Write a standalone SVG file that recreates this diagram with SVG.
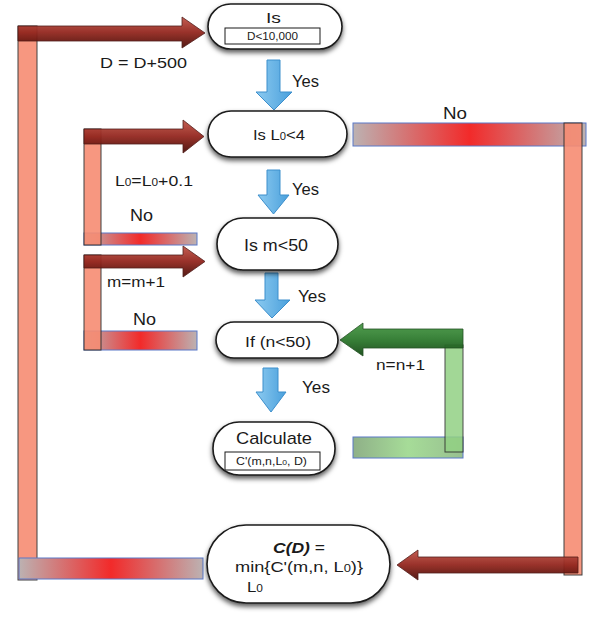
<svg xmlns="http://www.w3.org/2000/svg" width="599" height="623" viewBox="0 0 599 623">
<defs>
  <linearGradient id="redBar" x1="0" y1="0" x2="1" y2="0">
    <stop offset="0" stop-color="#bcb2b2"/>
    <stop offset="0.5" stop-color="#f22a2a"/>
    <stop offset="1" stop-color="#bcb2b2"/>
  </linearGradient>
  <linearGradient id="greenBar" x1="0" y1="0" x2="1" y2="0">
    <stop offset="0" stop-color="#8fb088"/>
    <stop offset="0.5" stop-color="#a6dc98"/>
    <stop offset="1" stop-color="#98c090"/>
  </linearGradient>
  <linearGradient id="redArrow" x1="0" y1="0" x2="0" y2="1">
    <stop offset="0" stop-color="#c2564a"/>
    <stop offset="0.5" stop-color="#93271f"/>
    <stop offset="1" stop-color="#4a0e08"/>
  </linearGradient>
  <linearGradient id="greenArrow" x1="0" y1="0" x2="0" y2="1">
    <stop offset="0" stop-color="#4a9a48"/>
    <stop offset="0.5" stop-color="#2e7a2e"/>
    <stop offset="1" stop-color="#164a16"/>
  </linearGradient>
  <linearGradient id="blueArrow" x1="0" y1="0" x2="1" y2="0">
    <stop offset="0" stop-color="#8ccaf0"/>
    <stop offset="1" stop-color="#4aa0dc"/>
  </linearGradient>
  <filter id="shadow" x="-10%" y="-10%" width="120%" height="140%">
    <feDropShadow dx="0" dy="3" stdDeviation="2.5" flood-color="#000" flood-opacity="0.65"/>
  </filter>
  <style>
    .node { fill: #ffffff; stroke: #1a1a1a; stroke-width: 1.6; filter: url(#shadow); }
    .inner { fill: #ffffff; stroke: #1a1a1a; stroke-width: 1; }
    .t { font-family: "Liberation Sans", Arial, sans-serif; fill: #1a1a1a; }
    .salmon { fill: #f78c73; stroke: #2a2a2a; stroke-width: 1; opacity: 0.9; }
    .rbar { fill: url(#redBar); stroke: #5a78c8; stroke-width: 1; }
    .gbar { fill: url(#greenBar); stroke: #5a78c8; stroke-width: 1; }
    .gvert { fill: #92d184; stroke: #2a2a2a; stroke-width: 1; opacity: 0.85; }
    .rarrow { fill: url(#redArrow); stroke: #4a1410; stroke-width: 0.8; opacity: 0.95; }
    .garrow { fill: url(#greenArrow); stroke: #1a4a1a; stroke-width: 0.8; opacity: 0.95; }
    .barrow { fill: url(#blueArrow); stroke: #3d8fcc; stroke-width: 1; }
  </style>
</defs>
<rect width="599" height="623" fill="#ffffff"/>

<g id="connectors">
  <!-- outer D loop -->
  <rect class="salmon" x="18" y="26" width="19" height="554"/>
  <rect class="rbar" x="19" y="558" width="184" height="21"/>
  <path class="rarrow" d="M18,26 L182,26 L182,17 L205,33 L182,48 L182,41 L18,41 Z"/>
  <!-- L0 loop -->
  <rect class="rbar" x="84" y="233" width="113" height="12"/>
  <rect class="salmon" x="84" y="129" width="17" height="116"/>
  <path class="rarrow" d="M84,129 L183,129 L183,120 L204,136.5 L183,153 L183,144 L84,144 Z"/>
  <!-- m loop -->
  <rect class="rbar" x="84" y="331" width="113" height="19"/>
  <rect class="salmon" x="84" y="255" width="17" height="95"/>
  <path class="rarrow" d="M84,255 L183,255 L183,246 L205,261.5 L183,277 L183,268 L84,268 Z"/>
  <!-- right No loop -->
  <rect class="rbar" x="353" y="123" width="233" height="23"/>
  <rect class="salmon" x="564" y="123" width="18" height="452"/>
  <path class="rarrow" d="M578,557 L418,557 L418,550 L397,565 L418,580 L418,573 L578,573 Z"/>
  <!-- n loop -->
  <rect class="gbar" x="353" y="437" width="110" height="21"/>
  <rect class="gvert" x="445" y="345" width="18" height="107"/>
  <path class="garrow" d="M463,329 L363,329 L363,323 L340,340 L363,356 L363,348 L463,348 Z"/>
  <!-- Yes arrows -->
  <path class="barrow" d="M267,60 L280,60 L280,92 L292,92 L274,110 L256,92 L267,92 Z"/>
  <path class="barrow" d="M267,170 L280,170 L280,195 L289,195 L273.5,214 L258,195 L267,195 Z"/>
  <path class="barrow" d="M265,273 L278,273 L278,300 L290,300 L272,318 L255,300 L265,300 Z"/>
  <path class="barrow" d="M263,368 L278,368 L278,392 L286,392 L271,412 L256,392 L263,392 Z"/>
  <!-- labels -->
  <text class="t" x="100" y="68" font-size="15.5" textLength="87" lengthAdjust="spacingAndGlyphs">D = D+500</text>
  <text class="t" x="292" y="87" font-size="16" textLength="27" lengthAdjust="spacingAndGlyphs">Yes</text>
  <text class="t" x="443" y="119" font-size="16.5" textLength="24" lengthAdjust="spacingAndGlyphs">No</text>
  <text class="t" x="115" y="186" font-size="15" textLength="78" lengthAdjust="spacingAndGlyphs">L<tspan font-size="10">0</tspan>=L<tspan font-size="10">0</tspan>+0.1</text>
  <text class="t" x="292" y="195" font-size="16" textLength="27" lengthAdjust="spacingAndGlyphs">Yes</text>
  <text class="t" x="130" y="221" font-size="16.5" textLength="23" lengthAdjust="spacingAndGlyphs">No</text>
  <text class="t" x="107" y="287" font-size="15" textLength="58" lengthAdjust="spacingAndGlyphs">m=m+1</text>
  <text class="t" x="298" y="302" font-size="16" textLength="28" lengthAdjust="spacingAndGlyphs">Yes</text>
  <text class="t" x="133" y="325" font-size="16.5" textLength="23" lengthAdjust="spacingAndGlyphs">No</text>
  <text class="t" x="376" y="370" font-size="15" textLength="49" lengthAdjust="spacingAndGlyphs">n=n+1</text>
  <text class="t" x="302" y="393" font-size="16" textLength="28" lengthAdjust="spacingAndGlyphs">Yes</text>
</g>

<g id="node-d">
  <rect class="node" x="208" y="4" width="134" height="45" rx="22.5"/>
  <rect class="inner" x="225" y="28" width="95" height="16"/>
  <text class="t" x="266" y="23" font-size="15" textLength="15" lengthAdjust="spacingAndGlyphs">Is</text>
  <text class="t" x="247" y="40" font-size="11" textLength="51" lengthAdjust="spacingAndGlyphs">D&lt;10,000</text>
</g>

<g id="node-l0">
  <rect class="node" x="208" y="111" width="139" height="46" rx="23"/>
  <text class="t" x="253" y="140" font-size="15.5" textLength="52" lengthAdjust="spacingAndGlyphs">Is L<tspan font-size="10.5">0</tspan>&lt;4</text>
</g>

<g id="node-m">
  <rect class="node" x="217" y="218" width="121" height="52" rx="26"/>
  <text class="t" x="244" y="251" font-size="16" textLength="64" lengthAdjust="spacingAndGlyphs">Is m&lt;50</text>
</g>

<g id="node-n">
  <rect class="node" x="216" y="322" width="122" height="36" rx="18"/>
  <text class="t" x="245" y="347" font-size="15.5" textLength="66" lengthAdjust="spacingAndGlyphs">If (n&lt;50)</text>
</g>

<g id="node-calc">
  <rect class="node" x="213" y="422" width="122" height="53" rx="26"/>
  <rect class="inner" x="225" y="452" width="95" height="18"/>
  <text class="t" x="236" y="444" font-size="17" textLength="76" lengthAdjust="spacingAndGlyphs">Calculate</text>
  <text class="t" x="236" y="465" font-size="11.5" textLength="71" lengthAdjust="spacingAndGlyphs">C'(m,n,L<tspan font-size="8">0</tspan>, D)</text>
</g>

<g id="node-cd">
  <rect class="node" x="207" y="525" width="183" height="78" rx="39"/>
  <text class="t" x="273" y="553" font-size="15.5" textLength="52" lengthAdjust="spacingAndGlyphs"><tspan font-weight="bold" font-style="italic">C(D)</tspan> =</text>
  <text class="t" x="235" y="572" font-size="15.5" textLength="128" lengthAdjust="spacingAndGlyphs">min{C'(m,n, L<tspan font-size="11">0</tspan>)}</text>
  <text class="t" x="247" y="592" font-size="15.5" textLength="16" lengthAdjust="spacingAndGlyphs">L<tspan font-size="11">0</tspan></text>
</g>
</svg>
